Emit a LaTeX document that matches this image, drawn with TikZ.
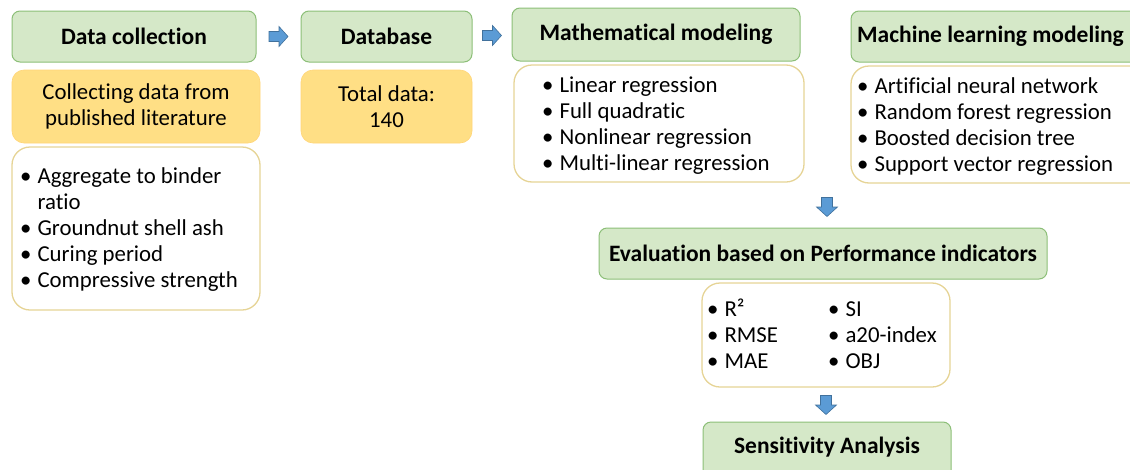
\documentclass[tikz,border=0pt]{standalone}
\usepackage{fontspec}
\setmainfont{Carlito}[Ligatures=NoCommon]
\usetikzlibrary{calc}
\definecolor{hdrfill}{HTML}{D5E8C8}
\definecolor{hdrline}{HTML}{8CBF78}
\definecolor{yfill}{HTML}{FFDF85}
\definecolor{wline}{HTML}{E6D496}
\definecolor{arrfill}{HTML}{5B9BD5}
\definecolor{arrline}{HTML}{41719C}
\newcommand{\hdrfnt}{\fontsize{23.5}{28}\bfseries\selectfont}
\newcommand{\bodyfnt}{\fontsize{22.8}{26}\selectfont}
\tikzset{
  hdr/.style={draw=hdrline, fill=hdrfill, rounded corners=8pt, line width=1pt, font=\hdrfnt, inner sep=0pt},
  ybox/.style={draw=yfill!90!orange, fill=yfill, rounded corners=12pt, line width=0.6pt, font=\bodyfnt, align=center, inner sep=0pt},
  wbox/.style={draw=wline, fill=white, rounded corners=18pt, line width=1.3pt, inner sep=0pt},
  lst/.style={font=\bodyfnt, inner sep=0pt, anchor=base west, align=left},
  blk/.style={draw=arrline, fill=arrfill, line width=0.6pt},
  rarrow/.pic={\draw[blk] (-9.5,-5) -- (0.5,-5) -- (0.5,-10) -- (9.5,0) -- (0.5,10) -- (0.5,5) -- (-9.5,5) -- cycle;},
  darrow/.pic={\draw[blk] (-5.5,-9.5) -- (5.5,-9.5) -- (5.5,0) -- (10.5,0) -- (0,9.5) -- (-10.5,0) -- (-5.5,0) -- cycle;}
}
\newcommand{\bl}{\textbullet}
\begin{document}
\begin{tikzpicture}[x=1pt,y=-1pt]
\useasboundingbox (0,0) rectangle (1130,469);
\clip (0,0) rectangle (1130,469);
% Column 1
\node[hdr, minimum width=244pt, minimum height=51pt] (dc) at (134,36.5) {Data collection};
\node[ybox, minimum width=248pt, minimum height=73pt] (dcy) at (136,106.5) {Collecting data from\\published literature};
\node[wbox, minimum width=248pt, minimum height=163pt] (dcw) at (136,228.5) {};
\node[lst] (dcl) at (20,183) {\begin{tabular}[t]{@{}l@{\hspace{6pt}}l@{}}
\bl & Aggregate to binder\\ & ratio\\ \bl & Groundnut shell ash\\ \bl & Curing period\\ \bl & Compressive strength\end{tabular}};
% Column 2
\node[hdr, minimum width=171pt, minimum height=51pt] (db) at (386.5,36.5) {Database};
\node[ybox, minimum width=171pt, minimum height=73pt] (dby) at (386.5,106.5) {Total data:\\140};
% Column 3
\node[hdr, minimum width=288pt, minimum height=53pt] (mm) at (656,34.5) {Mathematical modeling};
\node[wbox, minimum width=290pt, minimum height=117pt] (mmw) at (659,123.5) {};
\node[lst] (mml) at (542,92) {\begin{tabular}[t]{@{}l@{\hspace{6pt}}l@{}}
\bl & Linear regression\\ \bl & Full quadratic\\ \bl & Nonlinear regression\\ \bl & Multi-linear regression\end{tabular}};
% Column 4
\node[hdr, minimum width=300pt, minimum height=51pt] (ml) at (1001,36.5) {};
\node[font=\hdrfnt, inner sep=0pt, anchor=west] (mlt) at (857,36.5) {Machine learning modeling};
\node[wbox, minimum width=300pt, minimum height=117pt] (mlw) at (1001,124.5) {};
\node[lst] (mll) at (857,93) {\begin{tabular}[t]{@{}l@{\hspace{6pt}}l@{}}
\bl & Artificial neural network\\ \bl & Random forest regression\\ \bl & Boosted decision tree\\ \bl & Support vector regression\end{tabular}};
% Evaluation
\node[hdr, minimum width=448pt, minimum height=51pt] (ev) at (823,253.5) {Evaluation based on Performance indicators};
\node[wbox, minimum width=248pt, minimum height=104pt] (evw) at (826,335) {};
\node[lst] (evl1) at (707,316) {\begin{tabular}[t]{@{}l@{\hspace{6pt}}l@{}}
\bl & R²\\ \bl & RMSE\\ \bl & MAE\end{tabular}};
\node[lst] (evl2) at (828,316) {\begin{tabular}[t]{@{}l@{\hspace{6pt}}l@{}}
\bl & SI\\ \bl & a20-index\\ \bl & OBJ\end{tabular}};
% Sensitivity
\node[hdr, minimum width=248pt, minimum height=60pt] (sa) at (827,452) {};
\node[font=\hdrfnt, inner sep=0pt] (sat) at (827,447) {Sensitivity Analysis};
% Block arrows
\coordinate (a1) at ($(dc.east)!0.5!(db.west)$);
\coordinate (a2) at ($(db.east)!0.5!(mm.west)$);
\coordinate (a3) at (827,207);
\coordinate (a4) at (826,405);
\pic at (a1) {rarrow};
\pic at (a2) {rarrow};
\pic at (a3) {darrow};
\pic at (a4) {darrow};
\end{tikzpicture}
\end{document}
